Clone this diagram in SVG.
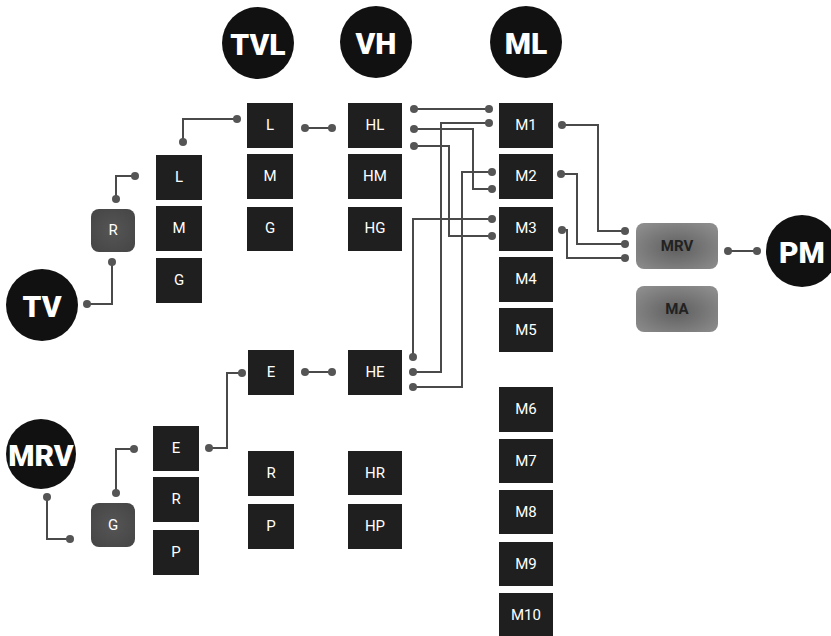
<svg xmlns="http://www.w3.org/2000/svg" width="831" height="636" viewBox="0 0 831 636">
<defs>
<radialGradient id="lg" cx="50%" cy="55%" r="65%">
<stop offset="0" stop-color="#5f5f5f"/>
<stop offset="1" stop-color="#8c8c8c"/>
</radialGradient>
<radialGradient id="gg" cx="50%" cy="50%" r="60%">
<stop offset="0" stop-color="#555"/>
<stop offset="1" stop-color="#474747"/>
</radialGradient>
<style>
.hd{fill:#111}
.hdt{fill:#fff;font-family:Roboto,"Liberation Sans",sans-serif;font-weight:900;font-size:30px;text-anchor:middle;dominant-baseline:central}
.bx{fill:#1f1f1f}
.bt{fill:#fff;font-family:Roboto,"Liberation Sans",sans-serif;font-size:15px;text-anchor:middle;dominant-baseline:central}
.gb{fill:url(#gg)}
.lb{fill:url(#lg)}
.lbt{fill:#222;font-family:Roboto,"Liberation Sans",sans-serif;font-weight:bold;font-size:15px;text-anchor:middle;dominant-baseline:central}
.ln{fill:none;stroke:#4a4a4a;stroke-width:2}
.dt{fill:#555}
</style>
</defs>
<rect width="831" height="636" fill="#fff"/>
<g id="head-TVL"><circle class="hd" cx="258" cy="43" r="36"/><text class="hdt" x="258" y="44">TVL</text></g>
<g id="head-VH"><circle class="hd" cx="376" cy="42" r="36"/><text class="hdt" x="376" y="43">VH</text></g>
<g id="head-ML"><circle class="hd" cx="526" cy="42" r="36"/><text class="hdt" x="526" y="43">ML</text></g>
<g id="head-TV"><circle class="hd" cx="42" cy="305" r="36"/><text class="hdt" x="42" y="306">TV</text></g>
<g id="head-MRV"><circle class="hd" cx="41" cy="454" r="35"/><text class="hdt" x="41" y="455" font-size="25">MRV</text></g>
<g id="head-PM"><circle class="hd" cx="802" cy="251" r="36"/><text class="hdt" x="802" y="252">PM</text></g>

<g id="n-R"><rect class="gb" x="91" y="209" width="44" height="43" rx="8"/><text class="bt" x="113" y="230">R</text></g>
<g id="n-G"><rect class="gb" x="91" y="503" width="44" height="44" rx="8"/><text class="bt" x="113" y="525">G</text></g>

<g id="n-L1"><rect class="bx" x="156" y="155" width="46" height="45"/><text class="bt" x="179" y="177">L</text></g>
<g id="n-M1a"><rect class="bx" x="156" y="206" width="46" height="45"/><text class="bt" x="179" y="228">M</text></g>
<g id="n-G1"><rect class="bx" x="156" y="258" width="46" height="45"/><text class="bt" x="179" y="280">G</text></g>

<g id="n-E1"><rect class="bx" x="153" y="426" width="46" height="45"/><text class="bt" x="176" y="448">E</text></g>
<g id="n-R1"><rect class="bx" x="153" y="477" width="46" height="45"/><text class="bt" x="176" y="499">R</text></g>
<g id="n-P1"><rect class="bx" x="153" y="530" width="46" height="45"/><text class="bt" x="176" y="552">P</text></g>

<g id="n-L2"><rect class="bx" x="247" y="103" width="46" height="45"/><text class="bt" x="270" y="125">L</text></g>
<g id="n-M2"><rect class="bx" x="247" y="154" width="46" height="45"/><text class="bt" x="270" y="176">M</text></g>
<g id="n-G2"><rect class="bx" x="247" y="207" width="46" height="44"/><text class="bt" x="270" y="228">G</text></g>
<g id="n-E2"><rect class="bx" x="248" y="350" width="46" height="45"/><text class="bt" x="271" y="372">E</text></g>
<g id="n-R2"><rect class="bx" x="248" y="451" width="46" height="45"/><text class="bt" x="271" y="473">R</text></g>
<g id="n-P2"><rect class="bx" x="248" y="504" width="46" height="45"/><text class="bt" x="271" y="526">P</text></g>

<g id="n-HL"><rect class="bx" x="348" y="103" width="54" height="45"/><text class="bt" x="375" y="125">HL</text></g>
<g id="n-HM"><rect class="bx" x="348" y="154" width="54" height="45"/><text class="bt" x="375" y="176">HM</text></g>
<g id="n-HG"><rect class="bx" x="348" y="207" width="54" height="44"/><text class="bt" x="375" y="228">HG</text></g>
<g id="n-HE"><rect class="bx" x="348" y="350" width="54" height="45"/><text class="bt" x="375" y="372">HE</text></g>
<g id="n-HR"><rect class="bx" x="348" y="451" width="54" height="44"/><text class="bt" x="375" y="473">HR</text></g>
<g id="n-HP"><rect class="bx" x="348" y="504" width="54" height="45"/><text class="bt" x="375" y="526">HP</text></g>

<g id="n-M1"><rect class="bx" x="499" y="103" width="54" height="45"/><text class="bt" x="526" y="125">M1</text></g>
<g id="n-M2b"><rect class="bx" x="499" y="154" width="54" height="45"/><text class="bt" x="526" y="176">M2</text></g>
<g id="n-M3"><rect class="bx" x="499" y="207" width="54" height="44"/><text class="bt" x="526" y="228">M3</text></g>
<g id="n-M4"><rect class="bx" x="499" y="257" width="54" height="45"/><text class="bt" x="526" y="279">M4</text></g>
<g id="n-M5"><rect class="bx" x="499" y="308" width="54" height="44"/><text class="bt" x="526" y="330">M5</text></g>
<g id="n-M6"><rect class="bx" x="499" y="387" width="54" height="45"/><text class="bt" x="526" y="409">M6</text></g>
<g id="n-M7"><rect class="bx" x="499" y="439" width="54" height="44"/><text class="bt" x="526" y="461">M7</text></g>
<g id="n-M8"><rect class="bx" x="499" y="490" width="54" height="44"/><text class="bt" x="526" y="512">M8</text></g>
<g id="n-M9"><rect class="bx" x="499" y="542" width="54" height="44"/><text class="bt" x="526" y="564">M9</text></g>
<g id="n-M10"><rect class="bx" x="499" y="593" width="54" height="45"/><text class="bt" x="526" y="615">M10</text></g>

<g id="n-MRVb"><rect class="lb" x="636" y="223" width="82" height="46" rx="8"/><text class="lbt" x="677" y="246">MRV</text></g>
<g id="n-MA"><rect class="lb" x="636" y="286" width="82" height="46" rx="8"/><text class="lbt" x="677" y="309">MA</text></g>

<g id="connectors">
<path class="ln" d="M87 304 H112 V262"/>
<path class="ln" d="M116 199 V176 H135"/>
<path class="ln" d="M183 142 V119 H237"/>
<path class="ln" d="M305 128 H332"/>
<path class="ln" d="M47 497 V539 H70"/>
<path class="ln" d="M116 493 V449 H134"/>
<path class="ln" d="M209 448 H227 V373 H242"/>
<path class="ln" d="M305 372 H332"/>
<path class="ln" d="M414 109 H489"/>
<path class="ln" d="M414 129 H473 V189 H492"/>
<path class="ln" d="M414 146 H449 V236 H492"/>
<path class="ln" d="M413 357 V219 H492"/>
<path class="ln" d="M413 372 H441 V123 H489"/>
<path class="ln" d="M413 387 H462 V172 H492"/>
<path class="ln" d="M562 125 H598 V231 H625"/>
<path class="ln" d="M561 174 H577 V244 H625"/>
<path class="ln" d="M562 230 H567 V258 H625"/>
<path class="ln" d="M728 251 H757"/>
<g class="dt">
<circle cx="87" cy="304" r="4"/><circle cx="112" cy="262" r="4"/>
<circle cx="116" cy="199" r="4"/><circle cx="135" cy="176" r="4"/>
<circle cx="183" cy="142" r="4"/><circle cx="237" cy="119" r="4"/>
<circle cx="305" cy="128" r="4"/><circle cx="332" cy="128" r="4"/>
<circle cx="47" cy="497" r="4"/><circle cx="70" cy="539" r="4"/>
<circle cx="116" cy="493" r="4"/><circle cx="134" cy="449" r="4"/>
<circle cx="209" cy="448" r="4"/><circle cx="242" cy="373" r="4"/>
<circle cx="305" cy="372" r="4"/><circle cx="332" cy="372" r="4"/>
<circle cx="414" cy="109" r="4"/><circle cx="414" cy="129" r="4"/><circle cx="414" cy="146" r="4"/>
<circle cx="489" cy="109" r="4"/><circle cx="489" cy="123" r="4"/>
<circle cx="492" cy="172" r="4"/><circle cx="492" cy="189" r="4"/>
<circle cx="492" cy="219" r="4"/><circle cx="492" cy="236" r="4"/>
<circle cx="413" cy="357" r="4"/><circle cx="413" cy="372" r="4"/><circle cx="413" cy="387" r="4"/>
<circle cx="562" cy="125" r="4"/><circle cx="561" cy="174" r="4"/><circle cx="562" cy="230" r="4"/>
<circle cx="625" cy="231" r="4"/><circle cx="625" cy="244" r="4"/><circle cx="625" cy="258" r="4"/>
<circle cx="728" cy="251" r="4"/><circle cx="757" cy="251" r="4"/>
</g>
</g>
</svg>
